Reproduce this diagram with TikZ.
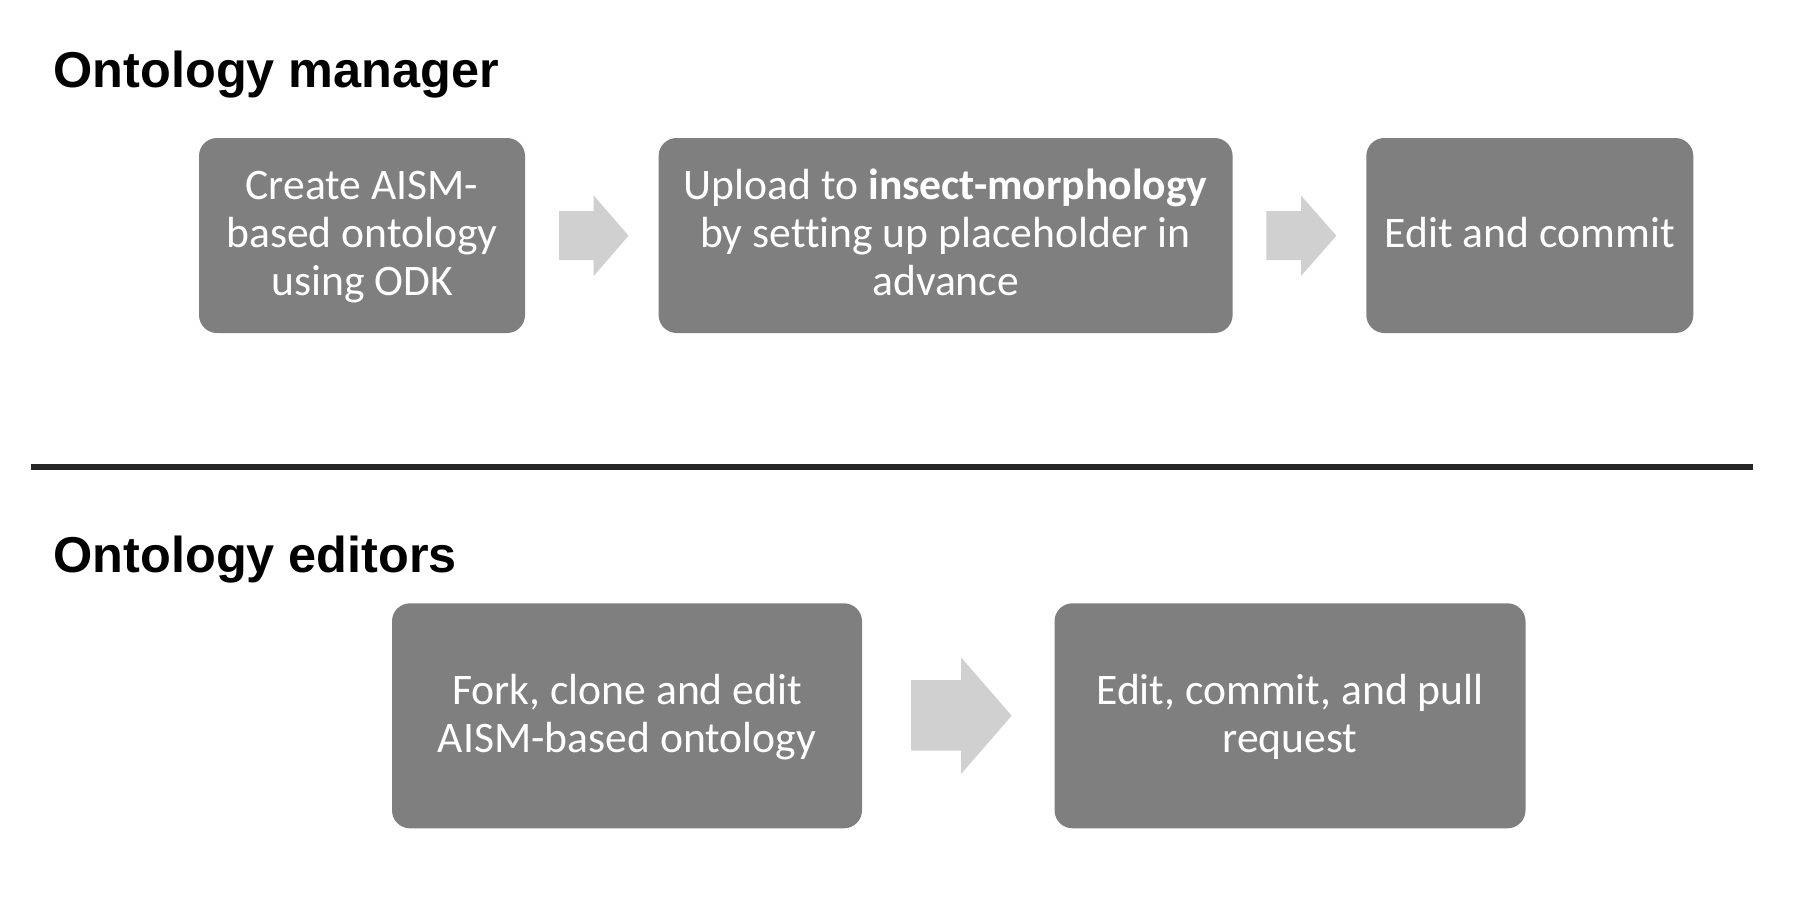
\documentclass[tikz,border=0pt]{standalone}
\usepackage{fontspec}
\setmainfont{Carlito}[Ligatures=CommonOff]
\newfontfamily\headfont{Liberation Sans}
\definecolor{boxgray}{HTML}{7F7F7F}
\definecolor{arrowgray}{HTML}{D0D0D0}
\definecolor{rulegray}{HTML}{262626}
% struts fixing first-line height and last-line depth
\newcommand\firststrut{\rule{0pt}{40pt}}
\newcommand\laststrut{\rule[-15.6pt]{0pt}{0pt}}
\begin{document}
\begin{tikzpicture}[x=1pt,y=-1pt,
  stepbox/.style={fill=boxgray, rounded corners=18pt, inner sep=0pt,
    text=white, align=center,
    font=\fontsize{43.6}{48}\selectfont},
  heading/.style={anchor=base west, inner sep=0pt,
    font=\headfont\bfseries\fontsize{50.4}{60}\selectfont},
  blockarrow/.style={fill=arrowgray, draw=none}]
\useasboundingbox (0,0) rectangle (1820,906);

% section titles
\node[heading] (t1) at (53.5,87) {Ontology manager};
\node[heading] (t2) at (53.5,572) {Ontology editors};

% manager workflow
\node[stepbox, minimum width=326pt, minimum height=195pt] (m1) at (362,235.5)
  {\firststrut Create AISM-\\based ontology\\using ODK\laststrut};
\node[stepbox, minimum width=574pt, minimum height=195pt] (m2) at (945.6,235.5)
  {\firststrut Upload to \textbf{insect-morphology}\\by setting up placeholder in\\advance\laststrut};
\node[stepbox, minimum width=327pt, minimum height=195pt] (m3) at (1529.8,235.5)
  {\firststrut Edit and commit\laststrut};

% block arrows between manager steps
\fill[blockarrow] (559,211) -- (593.7,211) -- (593.7,195.5) -- (628.5,235.7)
  -- (593.7,276) -- (593.7,260) -- (559,260) -- cycle;
\fill[blockarrow] (1266.4,211) -- (1301,211) -- (1301,195.5) -- (1336.4,235.7)
  -- (1301,276) -- (1301,260) -- (1266.4,260) -- cycle;

% separator rule
\coordinate (r1) at (31.4,467.2);
\coordinate (r2) at (1752.8,467.2);
\draw[rulegray, line width=6pt] (r1) -- (r2);

% editor workflow
\node[stepbox, minimum width=470pt, minimum height=225pt] (e1) at (627,715.8)
  {\firststrut Fork, clone and edit\\AISM-based ontology\laststrut};
\node[stepbox, minimum width=471pt, minimum height=225pt] (e2) at (1290,715.8)
  {\firststrut Edit, commit, and pull\\request\laststrut};

\fill[blockarrow] (911,680) -- (961,680) -- (961,657.3) -- (1011.7,715.7)
  -- (961,774) -- (961,750.7) -- (911,750.7) -- cycle;
\end{tikzpicture}
\end{document}
